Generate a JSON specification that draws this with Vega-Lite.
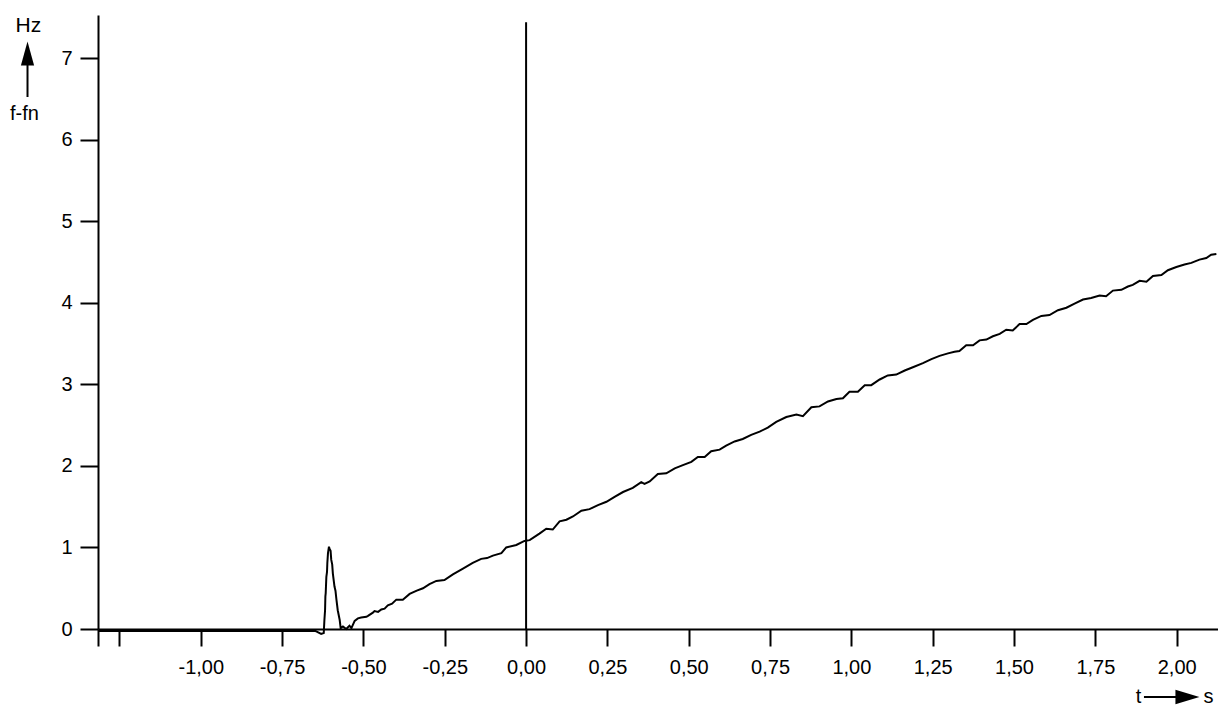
{
  "$schema": "https://vega.github.io/schema/vega-lite/v6.json",
  "width": 1120,
  "height": 614,
  "autosize": {"type": "none"},
  "padding": {"left": 98, "top": 15, "right": 0, "bottom": 78},
  "background": "white",
  "config": {
    "view": {"stroke": null},
    "font": "Liberation Sans",
    "axis": {
      "grid": false,
      "domainColor": "black",
      "domainWidth": 2,
      "tickColor": "black",
      "tickWidth": 2,
      "labelColor": "black",
      "labelFont": "Liberation Sans",
      "labelFontSize": 20,
      "title": null
    }
  },
  "datasets": {
    "curve": [
      {"t": -1.316, "v": -0.025}, {"t": -1.0, "v": -0.025}, {"t": -0.8, "v": -0.025}, {"t": -0.647, "v": -0.025},
      {"t": -0.645, "v": -0.03}, {"t": -0.63, "v": -0.06}, {"t": -0.622, "v": -0.05}, {"t": -0.62, "v": 0.11},
      {"t": -0.618, "v": 0.23}, {"t": -0.617, "v": 0.40}, {"t": -0.616, "v": 0.44}, {"t": -0.614, "v": 0.64},
      {"t": -0.612, "v": 0.70}, {"t": -0.611, "v": 0.81},
      {"t": -0.609, "v": 0.93}, {"t": -0.606, "v": 1.01}, {"t": -0.604, "v": 0.98}, {"t": -0.601, "v": 0.96},
      {"t": -0.599, "v": 0.85}, {"t": -0.596, "v": 0.79}, {"t": -0.594, "v": 0.68}, {"t": -0.589, "v": 0.52}, {"t": -0.586, "v": 0.47}, {"t": -0.583, "v": 0.36},
      {"t": -0.579, "v": 0.23}, {"t": -0.573, "v": 0.11}, {"t": -0.57, "v": 0.01}, {"t": -0.563, "v": 0.03},
      {"t": -0.553, "v": 0.0}, {"t": -0.543, "v": 0.04}, {"t": -0.537, "v": 0.01}, {"t": -0.527, "v": 0.10},
      {"t": -0.517, "v": 0.13}, {"t": -0.507, "v": 0.14}, {"t": -0.491, "v": 0.15}, {"t": -0.486, "v": 0.16},
      {"t": -0.471, "v": 0.20}, {"t": -0.466, "v": 0.22}, {"t": -0.455, "v": 0.21}, {"t": -0.445, "v": 0.24},
      {"t": -0.435, "v": 0.25}, {"t": -0.425, "v": 0.29}, {"t": -0.412, "v": 0.31}, {"t": -0.399, "v": 0.36},
      {"t": -0.379, "v": 0.36}, {"t": -0.358, "v": 0.43}, {"t": -0.336, "v": 0.47}, {"t": -0.317, "v": 0.50},
      {"t": -0.297, "v": 0.55}, {"t": -0.276, "v": 0.59}, {"t": -0.251, "v": 0.60}, {"t": -0.225, "v": 0.67},
      {"t": -0.194, "v": 0.74}, {"t": -0.164, "v": 0.81}, {"t": -0.138, "v": 0.86}, {"t": -0.12, "v": 0.87},
      {"t": -0.102, "v": 0.90}, {"t": -0.076, "v": 0.93}, {"t": -0.061, "v": 1.00}, {"t": -0.03, "v": 1.03},
      {"t": -0.005, "v": 1.08}, {"t": 0.011, "v": 1.09}, {"t": 0.041, "v": 1.17}, {"t": 0.062, "v": 1.23},
      {"t": 0.082, "v": 1.22}, {"t": 0.103, "v": 1.32}, {"t": 0.124, "v": 1.34}, {"t": 0.144, "v": 1.38},
      {"t": 0.17, "v": 1.45}, {"t": 0.195, "v": 1.47}, {"t": 0.221, "v": 1.52}, {"t": 0.247, "v": 1.56},
      {"t": 0.272, "v": 1.62}, {"t": 0.298, "v": 1.68}, {"t": 0.328, "v": 1.73}, {"t": 0.354, "v": 1.80},
      {"t": 0.364, "v": 1.78}, {"t": 0.38, "v": 1.81}, {"t": 0.405, "v": 1.90}, {"t": 0.431, "v": 1.91},
      {"t": 0.457, "v": 1.97}, {"t": 0.482, "v": 2.01}, {"t": 0.508, "v": 2.05}, {"t": 0.528, "v": 2.11},
      {"t": 0.549, "v": 2.11}, {"t": 0.569, "v": 2.18}, {"t": 0.595, "v": 2.20}, {"t": 0.615, "v": 2.25},
      {"t": 0.641, "v": 2.30}, {"t": 0.666, "v": 2.33}, {"t": 0.692, "v": 2.38}, {"t": 0.718, "v": 2.42},
      {"t": 0.743, "v": 2.47}, {"t": 0.769, "v": 2.54}, {"t": 0.8, "v": 2.60}, {"t": 0.831, "v": 2.63},
      {"t": 0.851, "v": 2.61}, {"t": 0.877, "v": 2.72}, {"t": 0.902, "v": 2.73}, {"t": 0.928, "v": 2.79},
      {"t": 0.954, "v": 2.82}, {"t": 0.974, "v": 2.83}, {"t": 0.994, "v": 2.91}, {"t": 1.02, "v": 2.91},
      {"t": 1.041, "v": 2.99}, {"t": 1.061, "v": 2.99}, {"t": 1.087, "v": 3.06}, {"t": 1.112, "v": 3.11},
      {"t": 1.138, "v": 3.12}, {"t": 1.164, "v": 3.17}, {"t": 1.189, "v": 3.21}, {"t": 1.22, "v": 3.26},
      {"t": 1.246, "v": 3.31}, {"t": 1.271, "v": 3.35}, {"t": 1.297, "v": 3.38}, {"t": 1.317, "v": 3.40},
      {"t": 1.332, "v": 3.41}, {"t": 1.353, "v": 3.48}, {"t": 1.374, "v": 3.48}, {"t": 1.394, "v": 3.54},
      {"t": 1.415, "v": 3.55}, {"t": 1.435, "v": 3.59}, {"t": 1.456, "v": 3.62}, {"t": 1.476, "v": 3.67},
      {"t": 1.496, "v": 3.66}, {"t": 1.517, "v": 3.74}, {"t": 1.538, "v": 3.74}, {"t": 1.558, "v": 3.79},
      {"t": 1.584, "v": 3.84}, {"t": 1.609, "v": 3.85}, {"t": 1.635, "v": 3.91}, {"t": 1.661, "v": 3.94},
      {"t": 1.686, "v": 3.99}, {"t": 1.712, "v": 4.04}, {"t": 1.737, "v": 4.06}, {"t": 1.763, "v": 4.09},
      {"t": 1.783, "v": 4.08}, {"t": 1.804, "v": 4.15}, {"t": 1.83, "v": 4.16}, {"t": 1.85, "v": 4.20},
      {"t": 1.865, "v": 4.22}, {"t": 1.886, "v": 4.27}, {"t": 1.907, "v": 4.26}, {"t": 1.927, "v": 4.33},
      {"t": 1.953, "v": 4.34}, {"t": 1.973, "v": 4.40}, {"t": 1.999, "v": 4.44}, {"t": 2.024, "v": 4.47},
      {"t": 2.045, "v": 4.49}, {"t": 2.07, "v": 4.53}, {"t": 2.091, "v": 4.55}, {"t": 2.106, "v": 4.59},
      {"t": 2.122, "v": 4.60}
    ],
    "one": [{}]
  },
  "data": {"name": "one"},
  "layer": [
    {
      "data": {"name": "curve"},
      "mark": {"type": "line", "color": "black", "strokeWidth": 2, "clip": false},
      "encoding": {
        "x": {
          "field": "t",
          "type": "quantitative",
          "scale": {"domain": [-1.316, 2.127], "nice": false, "zero": false},
          "axis": {
            "values": [-1.316, -1.25, -1, -0.75, -0.5, -0.25, 0, 0.25, 0.5, 0.75, 1, 1.25, 1.5, 1.75, 2],
            "tickSize": 17,
            "labelPadding": 11,
            "labelExpr": "datum.value < -1.1 ? '' : replace(replace(format(datum.value, '.2f'), '.', ','), '\u2212', '-')",
            "labelFlush": false,
            "labelOverlap": false,
            "title": null
          }
        },
        "y": {
          "field": "v",
          "type": "quantitative",
          "scale": {"domain": [0, 7.53], "nice": false, "zero": false},
          "axis": {
            "values": [0, 1, 2, 3, 4, 5, 6, 7],
            "tickSize": 18,
            "labelPadding": 8,
            "format": "d",
            "title": null
          }
        }
      }
    },
    {
      "mark": {"type": "rule", "color": "black", "strokeWidth": 2},
      "encoding": {
        "x": {"datum": 0},
        "y": {"datum": 0},
        "y2": {"datum": 7.44}
      }
    },
    {
      "mark": {"type": "text", "text": "Hz", "fontSize": 21, "font": "Liberation Sans", "fill": "black", "align": "center", "baseline": "alphabetic"},
      "encoding": {"x": {"datum": -1.53}, "y": {"datum": 7.318}}
    },
    {
      "mark": {"type": "text", "text": "f-fn", "fontSize": 20, "font": "Liberation Sans", "fill": "black", "align": "center", "baseline": "alphabetic"},
      "encoding": {"x": {"datum": -1.542}, "y": {"datum": 6.242}}
    },
    {
      "mark": {"type": "rule", "color": "black", "strokeWidth": 2},
      "encoding": {"x": {"datum": -1.5327}, "y": {"datum": 6.929}, "y2": {"datum": 6.524}}
    },
    {
      "mark": {"type": "point", "shape": "M0,-1L0.55,1L-0.55,1Z", "filled": true, "fill": "black", "strokeWidth": 0, "opacity": 1, "size": 576},
      "encoding": {"x": {"datum": -1.5327}, "y": {"datum": 7.058}}
    },
    {
      "mark": {"type": "text", "text": "t", "fontSize": 20, "font": "Liberation Sans", "fill": "black", "align": "center", "baseline": "alphabetic"},
      "encoding": {"x": {"datum": 1.8825}, "y": {"datum": -0.9076}}
    },
    {
      "mark": {"type": "text", "text": "s", "fontSize": 20, "font": "Liberation Sans", "fill": "black", "align": "center", "baseline": "alphabetic"},
      "encoding": {"x": {"datum": 2.0977}, "y": {"datum": -0.9076}}
    },
    {
      "mark": {"type": "rule", "color": "black", "strokeWidth": 2},
      "encoding": {"x": {"datum": 1.8994}, "x2": {"datum": 2.0101}, "y": {"datum": -0.834}}
    },
    {
      "mark": {"type": "point", "shape": "M1,0L-1,0.6L-1,-0.6Z", "filled": true, "fill": "black", "strokeWidth": 0, "opacity": 1, "size": 576},
      "encoding": {"x": {"datum": 2.0331}, "y": {"datum": -0.834}}
    }
  ]
}
